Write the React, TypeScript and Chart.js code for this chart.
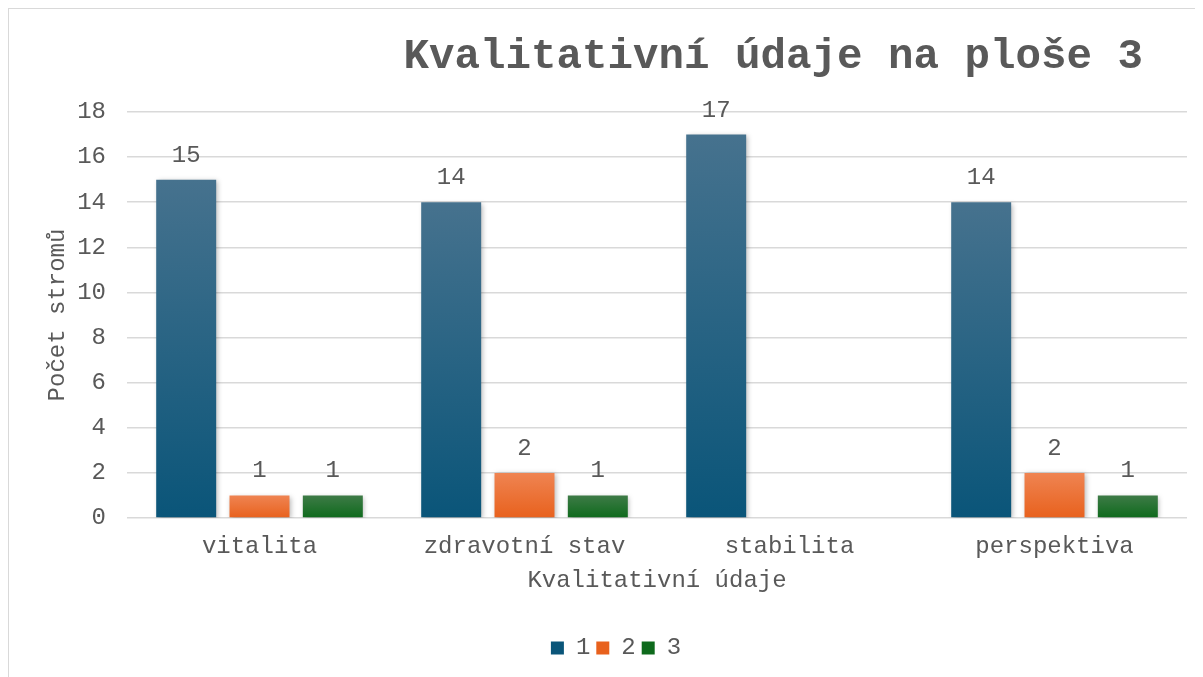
import React, { useEffect, useRef } from "react";
import { Chart, registerables } from "chart.js";

Chart.register(...registerables);

const chartTitle = "Kvalitativní údaje na ploše 3";
const xAxisTitle = "Kvalitativní údaje";
const yAxisTitle = "Počet stromů";
const categories = ["vitalita", "zdravotní stav", "stabilita", "perspektiva"];
const seriesLabels = ["1", "2", "3"];
const series1 = [15, 14, 17, 14];
const series2: (number | null)[] = [1, 2, null, 2];
const series3: (number | null)[] = [1, 1, null, 1];
const yMin = 0;
const yMax = 18;
const yStep = 2;

const FONT = '"Liberation Mono", "Courier New", monospace';
const TEXT = "#595959";
const GRID = "#d9d9d9";

const gradients: [string, string][] = [
  ["#46728e", "#0a5579"],
  ["#ef8452", "#e8611d"],
  ["#3e7b47", "#0e6a1c"],
];

function barFill(idx: number) {
  return (ctx: any) => {
    const chart = ctx.chart;
    const [top, bottom] = gradients[idx];
    const y = chart.scales?.y;
    if (!y || ctx.type !== "data" || ctx.raw == null) return bottom;
    const yTop = y.getPixelForValue(ctx.raw);
    const yBot = y.getPixelForValue(0);
    if (!isFinite(yTop) || !isFinite(yBot) || yTop === yBot) return bottom;
    const g = chart.ctx.createLinearGradient(0, yTop, 0, yBot);
    g.addColorStop(0, top);
    g.addColorStop(1, bottom);
    return g;
  };
}

const shadowPlugin = {
  id: "barShadow",
  beforeDatasetDraw(chart: any) {
    const c = chart.ctx;
    c.save();
    c.shadowColor = "rgba(0,0,0,0.28)";
    c.shadowBlur = 5;
    c.shadowOffsetX = 1.5;
    c.shadowOffsetY = 1.5;
  },
  afterDatasetDraw(chart: any) {
    chart.ctx.restore();
  },
};

const labelPlugin = {
  id: "valueLabels",
  afterDatasetsDraw(chart: any) {
    const c = chart.ctx;
    c.save();
    c.font = `24px ${FONT}`;
    c.fillStyle = TEXT;
    c.textAlign = "center";
    c.textBaseline = "alphabetic";
    chart.data.datasets.forEach((ds: any, i: number) => {
      const meta = chart.getDatasetMeta(i);
      meta.data.forEach((el: any, j: number) => {
        const v = ds.data[j];
        if (v == null) return;
        c.fillText(String(v), el.x, el.y - 18);
      });
    });
    c.restore();
  },
};

const titlePlugin = {
  id: "customTitle",
  afterDraw(chart: any) {
    const c = chart.ctx;
    c.save();
    c.font = `bold 42.5px ${FONT}`;
    c.fillStyle = TEXT;
    c.textAlign = "right";
    c.textBaseline = "middle";
    c.fillText(chartTitle, chart.chartArea.right - 44, 48);
    c.restore();
  },
};

export default function App() {
  const ref = useRef<HTMLCanvasElement | null>(null);

  useEffect(() => {
    if (!ref.current) return;
    const datasets = [series1, series2, series3].map((d, i) => ({
      label: seriesLabels[i],
      data: d,
      backgroundColor: barFill(i),
      borderWidth: 0,
      categoryPercentage: 0.83,
      barPercentage: 0.818,
    }));
    const chart = new Chart(ref.current, {
      type: "bar",
      data: { labels: categories, datasets },
      options: {
        responsive: false,
        animation: false,
        font: { family: FONT },
        layout: { padding: { left: 36, top: 103, right: 16, bottom: 7 } },
        plugins: {
          legend: {
            position: "bottom",
            labels: {
              font: { family: FONT, size: 24 },
              color: TEXT,
              boxWidth: 13,
              boxHeight: 13,
              padding: 6,
              generateLabels: (ch: any) =>
                ch.data.datasets.map((ds: any, i: number) => ({
                  text: ds.label,
                  fillStyle: gradients[i][1],
                  strokeStyle: gradients[i][1],
                  lineWidth: 0,
                  fontColor: TEXT,
                  datasetIndex: i,
                  hidden: false,
                })),
            },
          },
          title: { display: false },
          tooltip: { enabled: false },
        },
        scales: {
          x: {
            grid: { display: false },
            border: { display: false },
            ticks: {
              font: { family: FONT, size: 24 },
              color: TEXT,
              padding: 6,
              maxRotation: 0,
            },
            title: {
              display: true,
              text: xAxisTitle,
              font: { family: FONT, size: 24 },
              color: TEXT,
              padding: { top: 0, bottom: 35 },
            },
            afterFit: (s: any) => {
              s.height = 112;
            },
          },
          y: {
            min: yMin,
            max: yMax,
            ticks: {
              stepSize: yStep,
              font: { family: FONT, size: 24 },
              color: TEXT,
              padding: 21,
            },
            grid: { color: GRID, lineWidth: 1.6, drawTicks: false },
            border: { display: false },
            title: {
              display: true,
              text: yAxisTitle,
              font: { family: FONT, size: 24 },
              color: TEXT,
              padding: { top: -2, bottom: 0 },
            },
            afterFit: (s: any) => {
              s.width = 82;
            },
          },
        },
      },
      plugins: [shadowPlugin, labelPlugin, titlePlugin],
    } as any);
    return () => chart.destroy();
  }, []);

  return (
    <div
      style={{
        border: `1px solid ${GRID}`,
        width: 1212,
        height: 700,
        boxSizing: "border-box",
        background: "#fff",
      }}
    >
      <canvas ref={ref} width={1194} height={668} style={{ display: "block" }} />
    </div>
  );
}
